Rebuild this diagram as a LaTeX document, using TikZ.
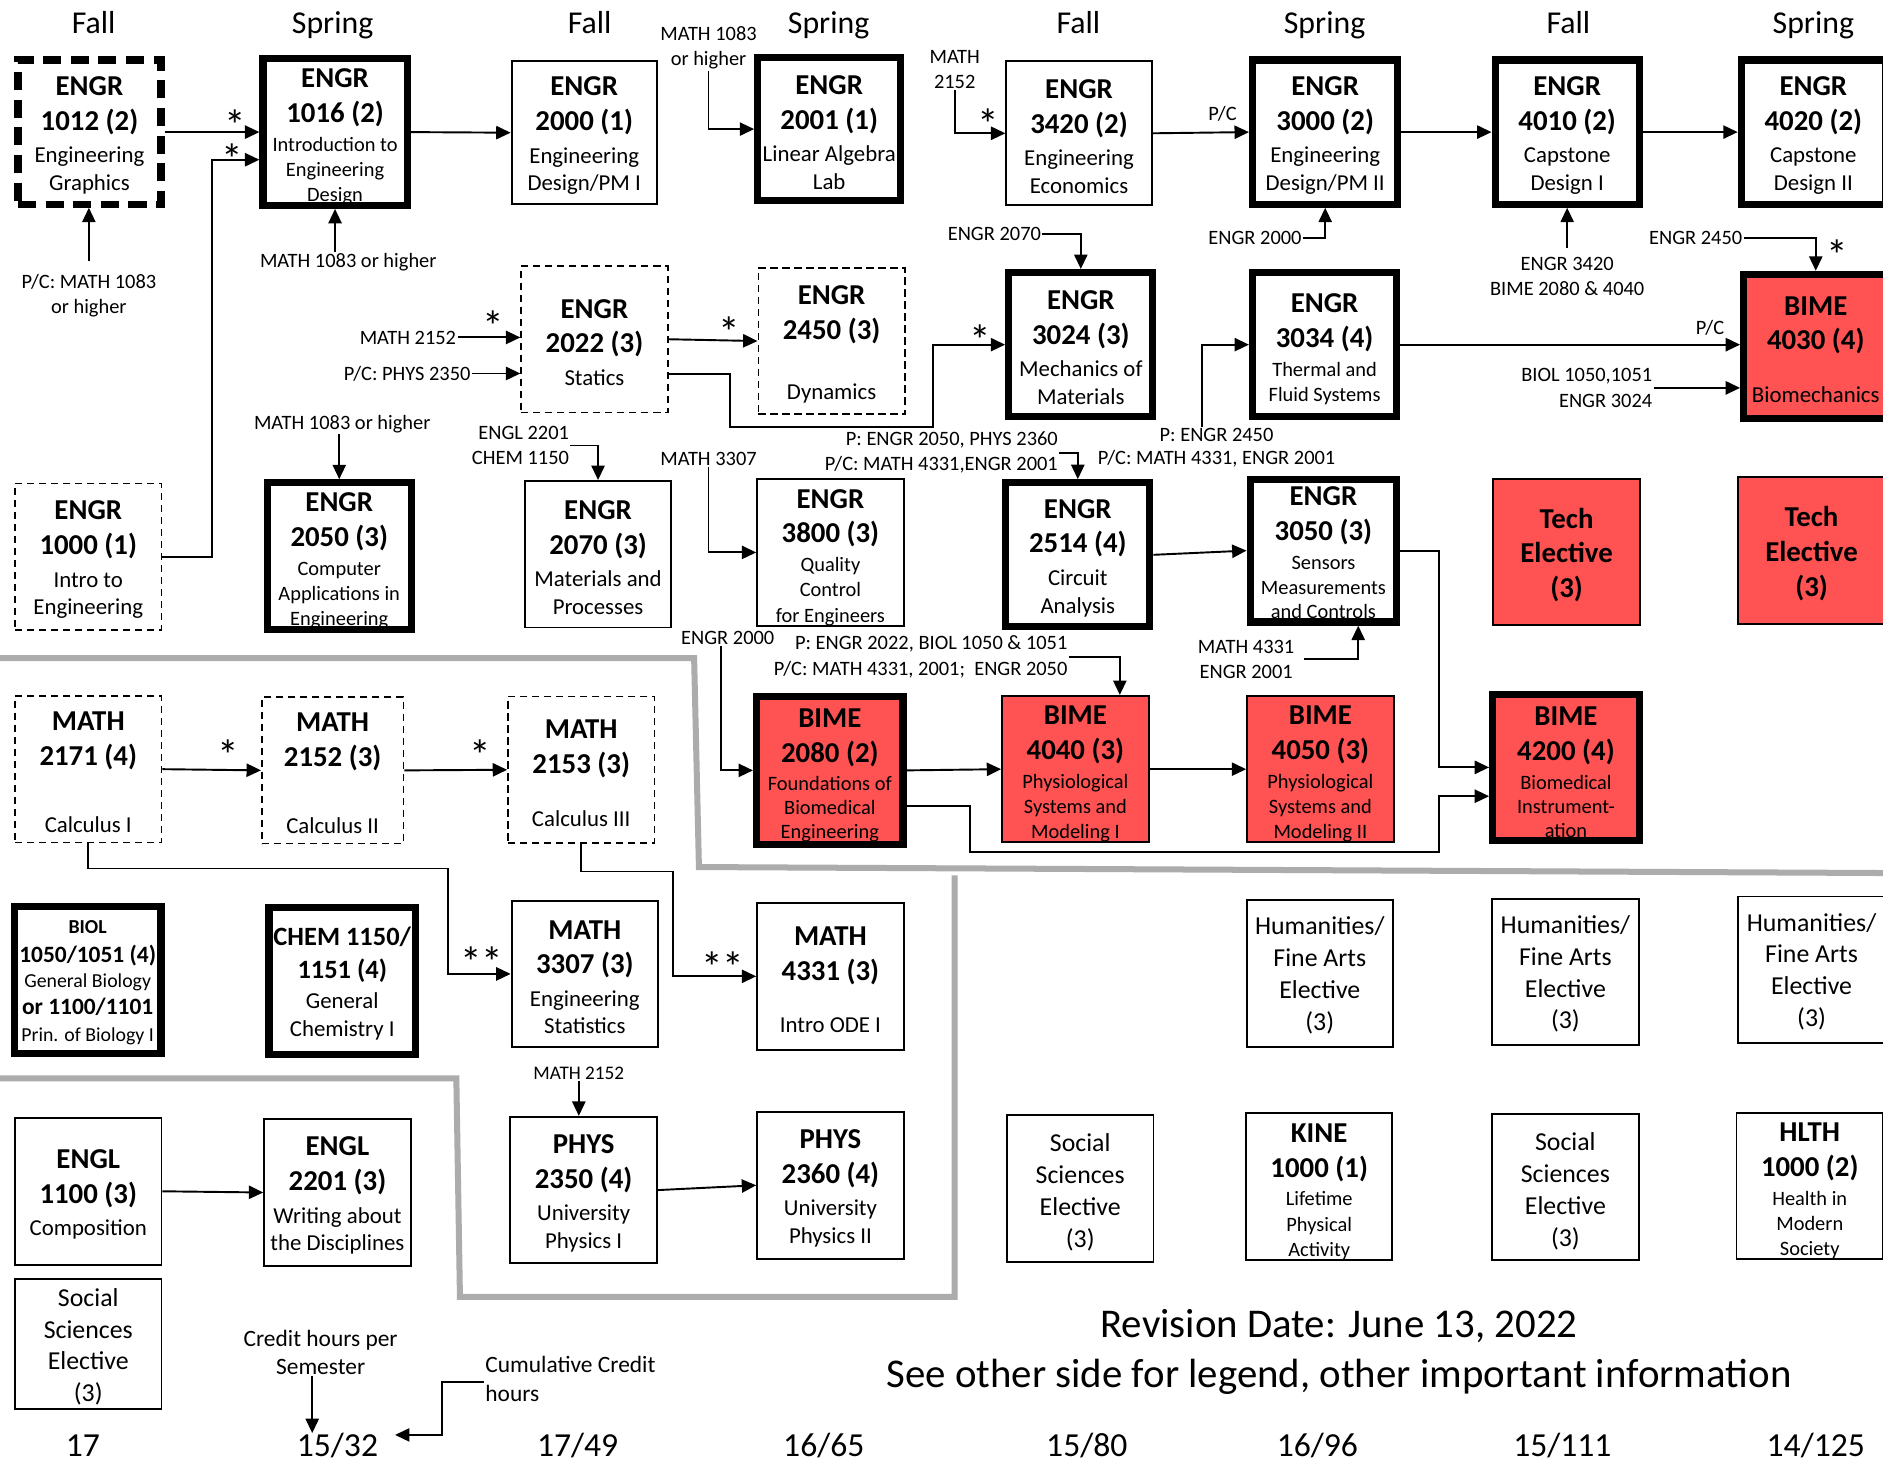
\documentclass[tikz,border=0pt]{standalone}
\usepackage{fontspec}
\setmainfont{Carlito}
\usetikzlibrary{arrows.meta,positioning}
\definecolor{bimered}{RGB}{255,82,82}
\newcommand{\hdf}{\fontsize{24}{29}\selectfont\bfseries}
\newcommand{\sbf}{\fontsize{19}{23}\selectfont}
\newcommand{\smf}{\fontsize{17}{21}\selectfont}
\newcommand{\lbf}{\fontsize{17}{21}\selectfont}
\newcommand{\hmf}{\fontsize{21.5}{26.5}\selectfont}
\newcommand{\tp}[1]{\rule{0pt}{#1pt}}
\newcommand{\crs}[3]{{\hdf\tp{21}#1}\\[6pt]{\hdf #2}\\[4pt]#3}
\newcommand{\crss}[3]{{\hdf\tp{24}#1}\\[8pt]{\hdf #2}\\[3pt]#3}

\begin{document}
\begin{tikzpicture}
		[   x=1pt,y=-1pt,
		    cbox/.style={draw,align=center,inner sep=0pt,line width=1.6pt,minimum width=122pt,minimum height=122pt,font=\sbf},
		    hbox/.style={cbox,line width=6pt,minimum width=120pt,minimum height=120pt},
		    dbox/.style={cbox,line width=1.4pt,dash pattern=on 6pt off 4pt},
		    ddbox/.style={hbox,dash pattern=on 15pt off 8pt},
		    redfill/.style={fill=bimered},
		    sz/.style 2 args={minimum width=#1pt,minimum height=#2pt},
		    lbl/.style={align=center,inner sep=1pt,font=\lbf},
		    sem/.style={anchor=base,inner sep=0pt,font=\fontsize{26.5}{30}\selectfont},
		    crd/.style={anchor=base,inner sep=0pt,font=\fontsize{28}{32}\selectfont},
		    astr/.style={anchor=north,inner sep=0pt,text height=26pt,text depth=-13pt,font=\fontsize{36}{36}\selectfont},
		    region/.style={draw=gray!65,line width=5pt},
		]
		\tikzset{req arrow/.style={draw,line width=1.6pt,-{Triangle[length=12pt,width=11pt]}}}
		\fill[white,use as bounding box] (0,0) rectangle (1568,1217);
		
		% grey borders of the groups
		\draw[region] (0,548) -- (578,548) -- (582,722) -- (1572,727);
		\draw[region] (0,898) -- (380,898) -- (383,1080) -- (795,1080) -- (795,729);
		
		\foreach \x/\s [count=\i] in {78/Fall,277/Spring,491/Fall,690/Spring,898/Fall,1103/Spring,1306/Fall,1510/Spring}
		{
			\node[sem] (sem-\i) at (\x,28) {\s};
		}
		
		% first row
		\node[ddbox,sz={119}{120}] (c1012) at (74.5,110) {\crs{ENGR}{1012 (2)}{Engineering\\Graphics}};
		\node[hbox,font=\smf] (c1016) at (279,110) {\crss{ENGR}{1016 (2)}{Introduction to\\Engineering\\Design}};
		\node[cbox,sz={121}{119}] (c2000) at (486.5,110.5) {\crs{ENGR}{2000 (1)}{Engineering\\Design/PM I}};
		\node[hbox,sz={119}{119}] (c2001) at (690.5,107.5) {\crs{ENGR}{2001 (1)}{Linear Algebra\\Lab}};
		\node[cbox,sz={121}{120}] (c3420) at (898.5,111) {\crs{ENGR}{3420 (2)}{Engineering\\Economics}};
		\node[hbox,sz={121}{120}] (c3000) at (1103.5,110) {\crs{ENGR}{3000 (2)}{Engineering\\Design/PM II}};
		\node[hbox] (c4010) at (1305,110) {\crs{ENGR}{4010 (2)}{Capstone\\Design I}};
		\node[hbox] (c4020) at (1510,110) {\crs{ENGR}{4020 (2)}{Capstone\\Design II}};
		
		% second row
		\node[dbox] (c2022) at (495,282.5) {\crs{ENGR}{2022 (3)}{Statics}};
		\node[dbox] (c2450) at (692.5,284) {\crs{ENGR}{2450 (3)}{\\Dynamics}};
		\node[hbox] (c3024) at (900,287) {\crs{ENGR}{3024 (3)}{Mechanics of\\Materials}};
		\node[hbox,font=\smf] (c3034) at (1103,287) {\crss{ENGR}{3034 (4)}{Thermal and\\Fluid Systems}};
		\node[hbox,redfill] (b4030) at (1512,288.5) {\crs{BIME}{4030 (4)}{\\[-6pt]Biomechanics}};
		
		% third row
		\node[dbox] (c1000) at (73.5,463.5) {\crs{ENGR}{1000 (1)}{Intro to\\Engineering}};
		\node[hbox,font=\smf] (c2050) at (282.5,463) {\crss{ENGR}{2050 (3)}{Computer\\Applications in\\Engineering}};
		\node[cbox] (c2070) at (498,461.5) {\crs{ENGR}{2070 (3)}{Materials and\\Processes}};
		\node[cbox,font=\smf] (c3800) at (691.5,460) {\crss{ENGR}{3800 (3)}{Quality\\Control\\for Engineers}};
		\node[hbox] (c2514) at (897.5,462) {\crs{ENGR}{2514 (4)}{Circuit\\Analysis}};
		\node[hbox,font=\smf,sz={122}{119}] (c3050) at (1102,458.5) {{\hdf\tp{19}ENGR}\\[8pt]{\hdf 3050 (3)}\\[3pt]Sensors\\Measurements\\[-1pt]and Controls};
		\node[cbox,redfill,font=\hdf] (tech1) at (1304.5,459.5) {\tp{22}Tech\\Elective\\(3)};
		\node[cbox,redfill,font=\hdf] (tech2) at (1508.5,458.5) {\tp{22}Tech\\Elective\\(3)};
		
		% fourth row
		\node[dbox] (m2171) at (73.5,640.5) {\crs{MATH}{2171 (4)}{\\[6pt]Calculus I}};
		\node[dbox,sz={118}{122}] (m2152) at (277,641.5) {\crs{MATH}{2152 (3)}{\\[6pt]Calculus II}};
		\node[dbox] (m2153) at (484,641) {\crs{MATH}{2153 (3)}{\\[-6pt]Calculus III}};
		\node[hbox,redfill,font=\smf,sz={122}{123}] (b2080) at (691,641.5) {\crss{BIME}{2080 (2)}{Foundations of\\[-1pt]Biomedical\\[-1pt]Engineering}};
		\node[cbox,redfill,font=\smf] (b4040) at (895.5,640.5) {\crss{BIME}{4040 (3)}{Physiological\\Systems and\\Modeling I}};
		\node[cbox,redfill,font=\smf] (b4050) at (1099.5,640.5) {\crss{BIME}{4050 (3)}{Physiological\\Systems and\\Modeling II}};
		\node[hbox,redfill,font=\smf,sz={122}{122}] (b4200) at (1304,639) {\crss{BIME}{4200 (4)}{Biomedical\\[-1pt]Instrument-\\[-1pt]ation}};
		
		% fifth row
		\node[hbox,font=\fontsize{16.5}{21}\selectfont,sz={122}{122}] (biol) at (73,816) {{\bfseries\tp{16}BIOL}\\[3pt]{\fontsize{19.5}{21}\selectfont\bfseries 1050/1051 (4)}\\General Biology\\[1pt]{\fontsize{19.5}{21}\selectfont\bfseries or 1100/1101}\\[2pt]Prin. of Biology I};
		\node[hbox,sz={122}{122}] (chem) at (285,817) {{\fontsize{22}{27}\selectfont\bfseries\tp{20}CHEM 1150/}\\[4pt]{\fontsize{22}{27}\selectfont\bfseries 1151 (4)}\\[2pt]General\\[1pt]Chemistry I};
		\node[cbox] (m3307) at (487,811) {\crs{MATH}{3307 (3)}{Engineering\\Statistics}};
		\node[cbox] (m4331) at (691.5,813) {\crs{MATH}{4331 (3)}{\\[-7pt]Intro ODE I}};
		\node[cbox,font=\hmf] (hum-1) at (1099,810.5) {\tp{18}Humanities/\\Fine Arts\\Elective\\(3)};
		\node[cbox,font=\hmf] (hum-2) at (1303.5,809.5) {\tp{18}Humanities/\\Fine Arts\\Elective\\(3)};
		\node[cbox,font=\hmf] (hum-3) at (1508.5,807.5) {\tp{18}Humanities/\\Fine Arts\\Elective\\(3)};
		
		% sixth row
		\node[cbox] (e1100) at (73.5,992) {\crs{ENGL}{1100 (3)}{Composition}};
		\node[cbox] (e2201) at (281,993) {\crs{ENGL}{2201 (3)}{Writing about\\the Disciplines}};
		\node[cbox] (p2350) at (486,991) {\crs{PHYS}{2350 (4)}{University\\Physics I}};
		\node[cbox] (p2360) at (691.5,987) {\crs{PHYS}{2360 (4)}{University\\Physics II}};
		\node[cbox,font=\hmf] (ss-1) at (899.5,989.5) {\tp{22}Social\\Sciences\\Elective\\(3)};
		\node[cbox,font=\smf] (kine) at (1098.5,988) {\crss{KINE}{1000 (1)}{Lifetime\\Physical\\Activity}};
		\node[cbox,font=\hmf] (ss-2) at (1303.5,988.5) {\tp{22}Social\\Sciences\\Elective\\(3)};
		\node[cbox,font=\smf] (hlth) at (1507,987.5) {\crss{HLTH}{1000 (2)}{Health in\\Modern\\Society}};
		\node[cbox,font=\hmf,sz={122}{108}] (ss-0) at (73.5,1119) {\tp{20}Social\\Sciences\\Elective\\(3)};
		
		% prerequisite labels
		\node[lbl] (l1012) at (74,246) {P/C: MATH 1083\\or higher};
		\node[lbl] (l1016) at (290,218) {MATH 1083 or higher};
		\node[lbl] (l2001) at (590,40) {MATH 1083\\or higher};
		\node[lbl] (l3420) at (795,58) {MATH\\2152};
		\node[lbl] (pc3000) at (1018,95) {P/C};
		\node[lbl,anchor=east] (l3000) at (1085,198) {ENGR 2000};
		\node[lbl] (l4010) at (1305,230) {ENGR 3420\\BIME 2080 \& 4040};
		\node[lbl,anchor=east] (l3024) at (868,195) {ENGR 2070};
		\node[lbl,anchor=east] (l4030a) at (1452,198) {ENGR 2450};
		\node[lbl,anchor=east] (l2022a) at (381,281) {MATH 2152};
		\node[lbl,anchor=east] (l2022b) at (393,311) {P/C: PHYS 2350};
		\node[lbl] (l3034) at (1013,362) {P: ENGR 2450};
		\node[lbl] (l3050b) at (1013,382) {P/C: MATH 4331, ENGR 2001};
		\node[lbl] (pc4030) at (1424,273) {P/C};
		\node[lbl,anchor=east,align=right] (l4030b) at (1377,323) {BIOL 1050,1051\\ENGR 3024};
		\node[lbl] (l2050) at (285,353) {MATH 1083 or higher};
		\node[lbl,anchor=east,align=right] (l2070) at (475,371) {ENGL 2201\\CHEM 1150};
		\node[lbl] (l3800) at (590,382) {MATH 3307};
		\node[lbl,anchor=east,align=right] (l2514) at (882,377) {P: ENGR 2050, PHYS 2360\\P/C: MATH 4331,ENGR 2001};
		\node[lbl,anchor=east] (l3050) at (1079,549) {MATH 4331\\ENGR 2001};
		\node[lbl] (l2080) at (606,531) {ENGR 2000};
		\node[lbl,anchor=east,align=right] (l4040) at (890,547) {P: ENGR 2022, BIOL 1050 \& 1051\\P/C: MATH 4331, 2001;\ \ ENGR 2050};
		\node[lbl,font=\fontsize{16}{20}\selectfont] (l2350) at (482,894) {MATH 2152};
		
		\foreach \x/\y [count=\i] in {196/91,193/119,823/90,411/258,607/263,816/270,1530/199,190/615,400/615}
		{
			\node[astr] (st-\i) at (\x,\y) {*};
		}
		\node[astr] (dst-1) at (401,788) {**};
		\node[astr] (dst-2) at (602,792) {**};
		
		% credit hours
		\foreach \x/\t [count=\i] in {69/{17},281/{15/32},481/{17/49},686/{16/65},905/{15/80},1097/{16/96},1301/{15/111},1512/{14/125}}
		{
			\node[crd] (cr-\i) at (\x,1213) {\t};
		}
		\node[lbl,font=\fontsize{19.5}{23}\selectfont] (lcredit) at (267,1126) {Credit hours per\\Semester};
		\node[lbl,anchor=west,align=left,font=\fontsize{19.5}{24}\selectfont] (lcum) at (403,1148) {Cumulative Credit\\hours};
		\node[anchor=base,font=\fontsize{34}{38}\selectfont] (rev-1) at (1115,1114) {Revision Date: June 13, 2022};
		\node[anchor=base,font=\fontsize{34}{38}\selectfont] (rev-2) at (1115,1155) {See other side for legend, other important information};
		
		% first row connectors
		\path[req arrow] (c1012.east) -- (c1016.west);
		\path[req arrow] (c1000.east) -- ++(41,0) |- ([yshift=-23pt]c1016.west);
		\path[req arrow] ([yshift=10pt]l1012.north) -- (l1012.north |- c1012.south);
		\path[req arrow] (l1016.north -| c1016.south) -- (c1016.south);
		\path[req arrow] (c1016.east) -- (c2000.west);
		\path[req arrow] (l2001.south) |- (c2001.west);
		\path[req arrow] (l3420.south) |- (c3420.west);
		\path[req arrow] (c3420.east) -- (c3000.west);
		\path[req arrow] (l3000.east) -| (c3000.south);
		\path[req arrow] (c3000.east) -- (c4010.west);
		\path[req arrow] (c4010.east) -- (c4020.west);
		\path[req arrow] ([yshift=6pt]l4010.north) -- (c4010.south);
		\path[req arrow] (l3024.east) -| (c3024.north);
		\path[req arrow] (l4030a.east) -| (b4030.north);
		
		% second row connectors
		\path[req arrow] (l2022a.east) -- (l2022a.east -| c2022.west);
		\path[req arrow] (l2022b.east) -- (l2022b.east -| c2022.west);
		\path[req arrow] (c2022.east) -- (c2450.west);
		\path[req arrow] ([yshift=-29pt]c2022.east) -- ++(51,0) -- ++(0,44) -| ([xshift=-60pt]c3024.west) -- (c3024.west);
		\path[req arrow] ([xshift=-12pt]l3034.north) |- (c3034.west);
		\path[req arrow] (c3034.east) -- (c3034.east -| b4030.west);
		\path[req arrow] (l4030b.east) -- (l4030b.east -| b4030.west);
		
		% third row connectors
		\path[req arrow] (l2050.south -| c2050.north) -- (c2050.north);
		\path[req arrow] (l2070.east) -| (c2070.north);
		\path[req arrow] (l3800.south) |- (c3800.west);
		\path[req arrow] (l2514.east) -| (c2514.north);
		\path[req arrow] (c2514.east) -- (c3050.west);
		\path[req arrow] ([xshift=7pt]l3050.east) -| ([xshift=29pt]c3050.south);
		\path[req arrow] (c3050.east) -- ++(32,0) |- (b4200.west);
		
		% fourth row connectors
		\path[req arrow] ([xshift=-6pt]l2080.south) |- (b2080.west);
		\path[req arrow] (l4040.east) -| ([xshift=37pt]b4040.north);
		\path[req arrow] (b2080.east) -- (b4040.west);
		\path[req arrow] (b4040.east) -- (b4050.west);
		\path[req arrow] ([yshift=-30pt]b2080.east) -- ++(53,0) -- ++(0,38) -| ([xshift=-42pt,yshift=-24pt]b4200.west) -- ([yshift=-24pt]b4200.west);
		\path[req arrow] (m2171.east) -- (m2152.west);
		\path[req arrow] (m2152.east) -- (m2153.west);
		\path[req arrow] (m2171.south) -- ++(0,21) -| ([xshift=-52pt]m3307.west) -- (m3307.west);
		\path[req arrow] (m2153.south) -- ++(0,23) -| ([xshift=-69pt]m4331.west) -- (m4331.west);
		
		% lower rows
		\path[req arrow] (l2350.south) -- (l2350.south |- p2350.north);
		\path[req arrow] (e1100.east) -- (e2201.west);
		\path[req arrow] (p2350.east) -- (p2360.west);
		\path[req arrow] ([xshift=-7pt]lcredit.south) -- ([xshift=-7pt]lcredit.south |- cr-2.north);
		\path[req arrow] ([yshift=-3pt]lcum.west) -- ++(-35,0) |- ([xshift=14pt,yshift=9pt]cr-2.east);
		
\end{tikzpicture}
\end{document}
